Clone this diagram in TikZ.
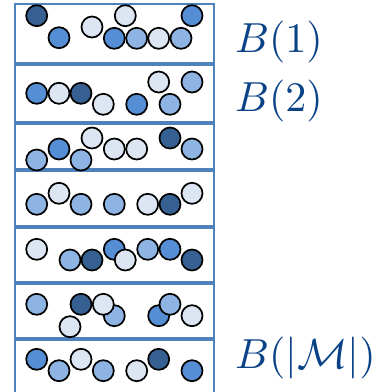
\documentclass[tikz,border=0pt]{standalone}
\usepackage{graphicx}
\usepackage{amsmath}
\definecolor{cdark}{RGB}{55,96,146}
\definecolor{cmid}{RGB}{85,142,213}
\definecolor{clight}{RGB}{142,180,227}
\definecolor{cvlight}{RGB}{220,230,242}
\definecolor{frame}{RGB}{79,129,189}
\definecolor{labelc}{RGB}{10,66,135}
\tikzset{
  ball/.style={circle,draw=black,line width=1.7pt,fill=#1,minimum size=21pt,inner sep=0pt,outer sep=0pt},
  sep/.style={draw=frame,line width=4pt},
  outer/.style={draw=frame,line width=1.8pt},
  lab/.style={anchor=base west,text=labelc,inner sep=0pt}
}
\newcommand{\biglab}[1]{\scalebox{4.2}{$#1$}}
\begin{document}
\begin{tikzpicture}[x=1pt,y=-1pt]
\useasboundingbox (0,0) rectangle (373,392);
\coordinate (tl) at (15,4);
\coordinate (tr) at (214,4);
\coordinate (bl) at (15,396);
\coordinate (br) at (214,396);
\draw[outer] (bl) -- (tl) -- (tr) -- (br);
\foreach \y [count=\i] in {63.5,123,170,226.5,282.5,339}{
  \coordinate (sl\i) at (15,\y);
  \coordinate (sr\i) at (214,\y);
  \draw[sep] (sl\i) -- (sr\i);
}
% strip 1
\node[ball=cdark] (a1) at (36.7,15.7) {};
\node[ball=cmid] (a2) at (59,37.7) {};
\node[ball=cvlight] (a3) at (92,27) {};
\node[ball=cvlight] (a4) at (125.3,15.7) {};
\node[ball=cmid] (a5) at (114.3,38.3) {};
\node[ball=clight] (a6) at (136.7,38.3) {};
\node[ball=cvlight] (a7) at (158.7,38.3) {};
\node[ball=clight] (a8) at (181,38.3) {};
\node[ball=cmid] (a9) at (192,15.7) {};
% strip 2
\node[ball=cmid] (b1) at (36.7,93.3) {};
\node[ball=cvlight] (b2) at (59,93.3) {};
\node[ball=cdark] (b3) at (81,93.3) {};
\node[ball=cvlight] (b4) at (103.3,104.3) {};
\node[ball=cmid] (b5) at (136.7,104.3) {};
\node[ball=cvlight] (b6) at (158.7,82) {};
\node[ball=clight] (b7) at (170,104.3) {};
\node[ball=clight] (b8) at (192,82) {};
% strip 3
\node[ball=clight] (c1) at (36.7,160) {};
\node[ball=cmid] (c2) at (59,149) {};
\node[ball=cvlight] (c3) at (92,138) {};
\node[ball=clight] (c4) at (81,160) {};
\node[ball=cvlight] (c5) at (114.3,149) {};
\node[ball=cvlight] (c6) at (136.7,149) {};
\node[ball=cdark] (c7) at (170,138) {};
\node[ball=clight] (c8) at (192,149) {};
% strip 4
\node[ball=clight] (d1) at (36.7,204.3) {};
\node[ball=cvlight] (d2) at (59,193.3) {};
\node[ball=clight] (d3) at (81,204.3) {};
\node[ball=clight] (d4) at (114.3,204.3) {};
\node[ball=cvlight] (d5) at (147.7,204.3) {};
\node[ball=cdark] (d6) at (170,204.3) {};
\node[ball=cvlight] (d7) at (192,193.3) {};
% strip 5
\node[ball=cvlight] (e1) at (36.7,249.3) {};
\node[ball=clight] (e2) at (70,260) {};
\node[ball=cdark] (e3) at (92,260) {};
\node[ball=cmid] (e4) at (114.3,249.3) {};
\node[ball=cvlight] (e5) at (125.3,260) {};
\node[ball=clight] (e6) at (147.7,249.3) {};
\node[ball=cmid] (e7) at (170,249.3) {};
\node[ball=cdark] (e8) at (192,260) {};
% strip 6
\node[ball=clight] (f1) at (36.7,304.3) {};
\node[ball=cvlight] (f2) at (70,326.7) {};
\node[ball=cdark] (f3) at (81,304.3) {};
\node[ball=clight] (f4) at (114.3,315.7) {};
\node[ball=cvlight] (f5) at (103.3,304.3) {};
\node[ball=cmid] (f6) at (158.7,315.7) {};
\node[ball=clight] (f7) at (170,304.3) {};
\node[ball=cvlight] (f8) at (192,315.7) {};
% strip 7
\node[ball=cmid] (g1) at (36.7,359.3) {};
\node[ball=clight] (g2) at (59,370.7) {};
\node[ball=cvlight] (g3) at (81,359.3) {};
\node[ball=clight] (g4) at (103.3,370.7) {};
\node[ball=cvlight] (g5) at (136.7,370.7) {};
\node[ball=cdark] (g6) at (158.7,359.3) {};
\node[ball=cmid] (g7) at (192,370.7) {};
% labels
\node[lab] (l1) at (235,52) {\biglab{B(1)}};
\node[lab] (l2) at (235,111.5) {\biglab{B(2)}};
\node[lab] (l3) at (235,368) {\biglab{B(|\mathcal{M}|)}};
\end{tikzpicture}
\end{document}
